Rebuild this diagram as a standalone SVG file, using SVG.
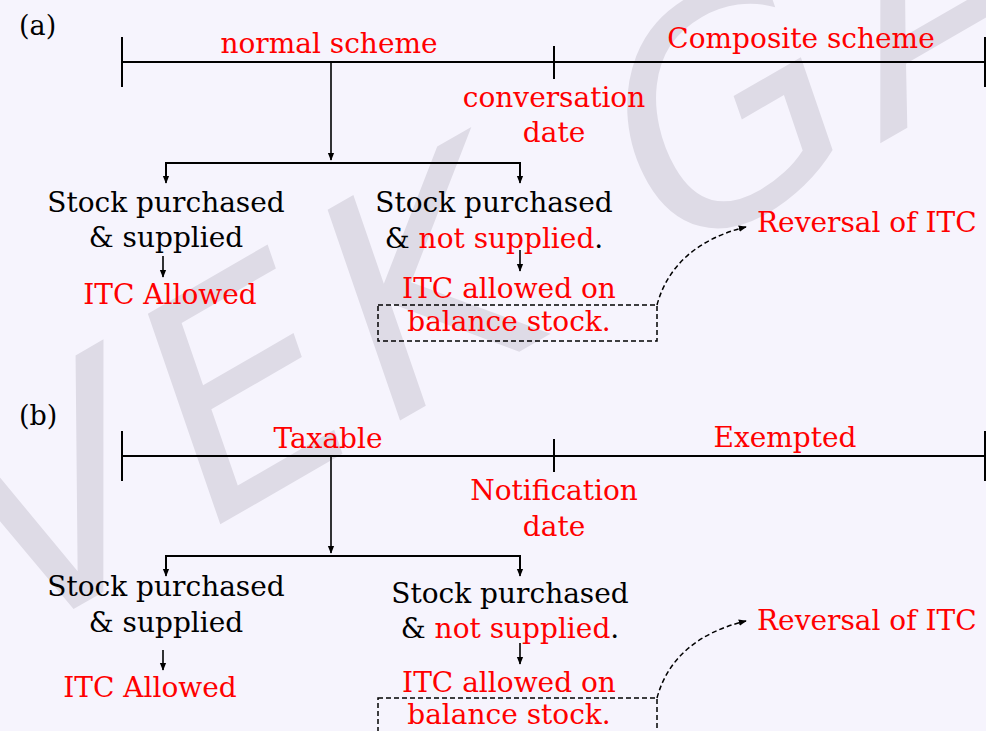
<svg xmlns="http://www.w3.org/2000/svg" width="986" height="731" viewBox="0 0 986 731">
<defs>
<style>
.t{font-family:"DejaVu Serif","Liberation Serif",serif;font-size:28px;fill:#000}
.r{fill:#ff0000}
.c{text-anchor:middle}
.ln{stroke:#000;stroke-width:2;fill:none}
.tk{stroke:#000;stroke-width:2;fill:none}
.ar{stroke:#000;stroke-width:1.6;fill:none;marker-end:url(#ah)}
.ds{stroke:#000;stroke-width:1.5;fill:none;stroke-dasharray:5 3}
.wm{font-family:"DejaVu Sans",sans-serif;font-size:300px;font-style:italic;fill:#dedbe6;letter-spacing:18px}
</style>
<marker id="ah" viewBox="0 0 10 10" refX="9" refY="5" markerWidth="8" markerHeight="8" orient="auto" markerUnits="userSpaceOnUse">
<path d="M0,1 L10,5 L0,9 z" fill="#000"/>
</marker>
</defs>
<rect width="986" height="731" fill="#f6f4fd"/>
<g id="watermark">
<text class="wm" transform="translate(20,640) rotate(-30)">VEK GA</text>
</g>
<g id="connectors">
<!-- (a) -->
<line class="ln" x1="122" y1="62" x2="986" y2="62"/>
<line class="tk" x1="122" y1="37" x2="122" y2="87"/>
<line class="tk" x1="554" y1="46" x2="554" y2="79"/>
<line class="tk" x1="985" y1="37" x2="985" y2="87"/>
<line class="ar" x1="331" y1="62" x2="331" y2="160"/>
<polyline class="ln" points="166,176 166,163 520,163 520,176"/>
<line class="ar" x1="166" y1="170" x2="166" y2="183"/>
<line class="ar" x1="520" y1="170" x2="520" y2="183"/>
<line class="ar" x1="163" y1="256" x2="163" y2="277"/>
<line class="ar" x1="520" y1="250" x2="520" y2="271"/>
<rect class="ds" x="378" y="305" width="279" height="36"/>
<path class="ds" d="M657,305 C668,264 700,238 746,227" style="marker-end:url(#ah)"/>
<!-- (b) -->
<line class="ln" x1="122" y1="456" x2="986" y2="456"/>
<line class="tk" x1="122" y1="431" x2="122" y2="481"/>
<line class="tk" x1="554" y1="439" x2="554" y2="472"/>
<line class="tk" x1="985" y1="431" x2="985" y2="481"/>
<line class="ar" x1="331" y1="456" x2="331" y2="553"/>
<polyline class="ln" points="166,569 166,556 520,556 520,569"/>
<line class="ar" x1="166" y1="563" x2="166" y2="576"/>
<line class="ar" x1="520" y1="563" x2="520" y2="576"/>
<line class="ar" x1="163" y1="650" x2="163" y2="670"/>
<line class="ar" x1="520" y1="643" x2="520" y2="664"/>
<rect class="ds" x="378" y="698" width="279" height="50"/>
<path class="ds" d="M657,698 C668,657 700,632 746,621" style="marker-end:url(#ah)"/>
</g>
<g id="label-a"><text class="t" x="19" y="35" style="font-size:27px">(a)</text></g>
<g id="normal-scheme"><text class="t r c" x="329" y="53">normal scheme</text></g>
<g id="composite-scheme"><text class="t r c" x="801" y="48">Composite scheme</text></g>
<g id="conversation-date"><text class="t r c" x="554" y="107">conversation</text><text class="t r c" x="554" y="142">date</text></g>
<g id="a-left"><text class="t c" x="166" y="212">Stock purchased</text><text class="t c" x="166" y="247">&amp; supplied</text></g>
<g id="a-left-itc"><text class="t r c" x="170" y="304">ITC Allowed</text></g>
<g id="a-right"><text class="t c" x="494" y="212">Stock purchased</text><text class="t c" x="494" y="248">&amp; <tspan class="r">not supplied</tspan>.</text></g>
<g id="a-right-itc"><text class="t r c" x="509" y="298">ITC allowed on</text><text class="t r c" x="509" y="331">balance stock.</text></g>
<g id="a-reversal"><text class="t r" x="757" y="232">Reversal of ITC</text></g>
<g id="label-b"><text class="t" x="19" y="425" style="font-size:27px">(b)</text></g>
<g id="taxable"><text class="t r c" x="328" y="448">Taxable</text></g>
<g id="exempted"><text class="t r c" x="785" y="447">Exempted</text></g>
<g id="notification-date"><text class="t r c" x="554" y="500">Notification</text><text class="t r c" x="554" y="536">date</text></g>
<g id="b-left"><text class="t c" x="166" y="596">Stock purchased</text><text class="t c" x="166" y="632">&amp; supplied</text></g>
<g id="b-left-itc"><text class="t r c" x="150" y="697">ITC Allowed</text></g>
<g id="b-right"><text class="t c" x="510" y="603">Stock purchased</text><text class="t c" x="510" y="638">&amp; <tspan class="r">not supplied</tspan>.</text></g>
<g id="b-right-itc"><text class="t r c" x="509" y="692">ITC allowed on</text><text class="t r c" x="509" y="724">balance stock.</text></g>
<g id="b-reversal"><text class="t r" x="757" y="630">Reversal of ITC</text></g>
</svg>
